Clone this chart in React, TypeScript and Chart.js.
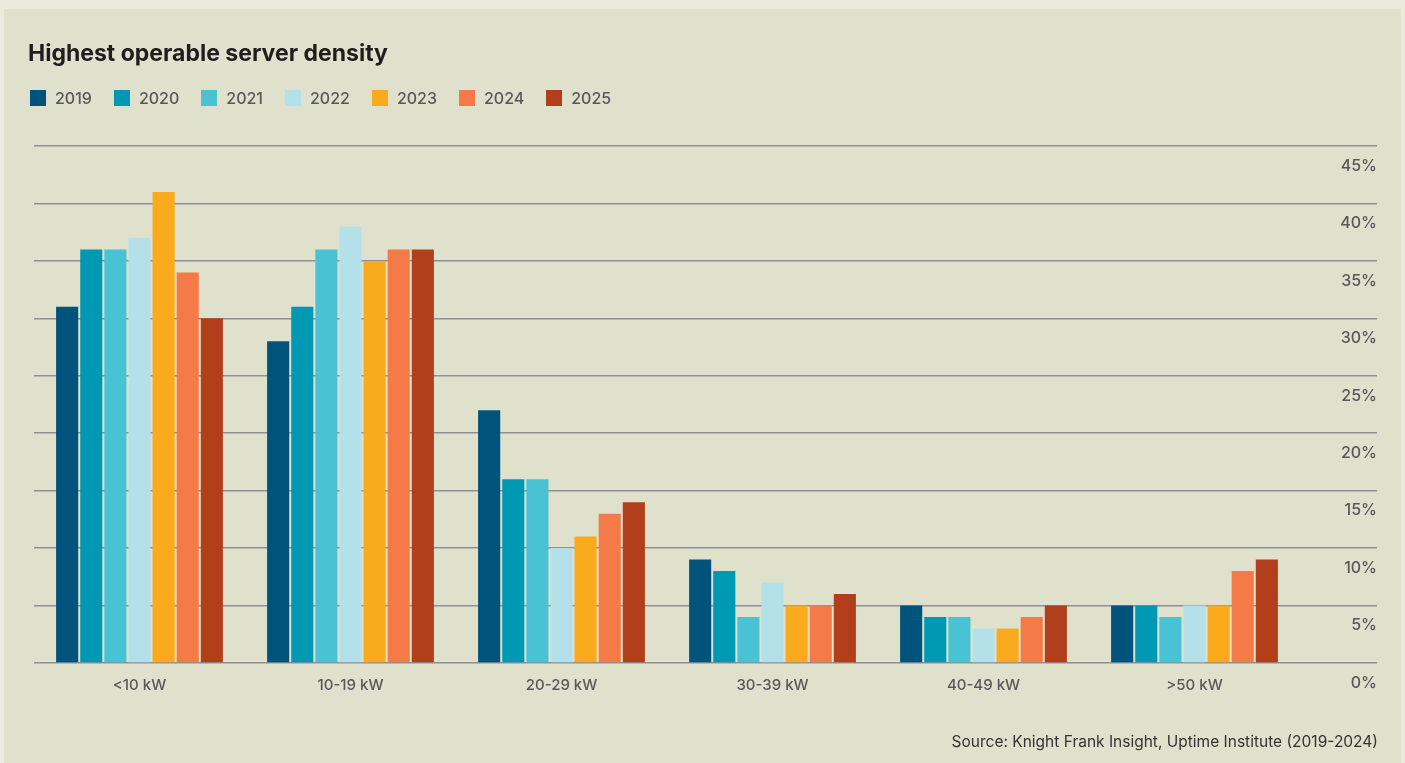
import React, { useEffect, useRef } from "react";
import { Chart, registerables } from "chart.js";

Chart.register(...registerables);

const TITLE = "Highest operable server density";
const SOURCE = "Source: Knight Frank Insight, Uptime Institute (2019-2024)";
const CATEGORIES = ["<10 kW", "10-19 kW", "20-29 kW", "30-39 kW", "40-49 kW", ">50 kW"];
const YEARS = ["2019", "2020", "2021", "2022", "2023", "2024", "2025"];
const COLORS = ["#00537A", "#0099B4", "#49C3D3", "#B4E0E9", "#FAAB1D", "#F47B48", "#B23F1C"];
const V2019 = [31, 28, 22, 9, 5, 5];
const V2020 = [36, 31, 16, 8, 4, 5];
const V2021 = [36, 36, 16, 4, 4, 4];
const V2022 = [37, 38, 10, 7, 3, 5];
const V2023 = [41, 35, 11, 5, 3, 5];
const V2024 = [34, 36, 13, 5, 4, 8];
const V2025 = [30, 36, 14, 6, 5, 9];
const SERIES = [V2019, V2020, V2021, V2022, V2023, V2024, V2025];
const Y_TICKS = [0, 5, 10, 15, 20, 25, 30, 35, 40, 45];

const FONT = "Inter, 'Noto Sans', Arial, sans-serif";

export default function App() {
  const ref = useRef<HTMLCanvasElement | null>(null);

  useEffect(() => {
    if (!ref.current) return;
    const yLabelPlugin = {
      id: "yLabels",
      afterDraw(chart: any) {
        const ctx = chart.ctx;
        const scale = chart.scales.y;
        ctx.save();
        ctx.font = `500 16px ${FONT}`;
        ctx.fillStyle = "#58585A";
        ctx.textAlign = "right";
        ctx.textBaseline = "middle";
        const x = chart.chartArea.right + 77;
        Y_TICKS.forEach((v) => {
          ctx.fillText(v + "%", x, scale.getPixelForValue(v) + 20);
        });
        ctx.restore();
      },
    };
    const chart = new Chart(ref.current, {
      type: "bar",
      data: {
        labels: CATEGORIES,
        datasets: YEARS.map((y, i) => ({
          label: y,
          data: SERIES[i],
          backgroundColor: COLORS[i],
          borderWidth: 0,
          categoryPercentage: 0.8,
          barPercentage: 0.917,
        })),
      },
      options: {
        responsive: false,
        animation: false,
        layout: { padding: { left: 34, right: 28, top: 146, bottom: 64 } },
        plugins: { legend: { display: false }, tooltip: { enabled: false }, title: { display: false } },
        scales: {
          x: {
            grid: { display: false },
            border: { display: false },
            ticks: { color: "#58585A", font: { family: FONT, size: 15, weight: 500 }, padding: 5 },
          },
          y: {
            position: "right",
            min: 0,
            max: 45,
            afterBuildTicks: (axis: any) => {
              axis.ticks = Y_TICKS.map((v) => ({ value: v }));
            },
            grid: { color: "#8D9196", lineWidth: 1.5, tickLength: 77, drawTicks: true },
            border: { display: false },
            ticks: { display: false },
          },
        },
      },
      plugins: [yLabelPlugin],
    });
    return () => chart.destroy();
  }, []);

  return (
    <div style={{ position: "absolute", left: 0, top: 0, width: 1405, height: 763, background: "#EBEBDD", overflow: "hidden", fontFamily: FONT }}>
      <div style={{ position: "absolute", left: 4, top: 9, width: 1397, height: 754, background: "#E0E1CC" }} />
      <canvas ref={ref} width={1405} height={763} style={{ position: "absolute", left: 0, top: 0, width: 1405, height: 763 }} />
      <div style={{ position: "absolute", left: 28, top: 39, lineHeight: "28px", fontSize: 23, fontWeight: 700, color: "#1E1E1E", whiteSpace: "nowrap" }}>
        {TITLE}
      </div>
      <div style={{ position: "absolute", left: 30, top: 90, height: 16, display: "flex", alignItems: "center" }}>
        {YEARS.map((y, i) => (
          <div key={y} style={{ display: "flex", alignItems: "center", marginRight: 22 }}>
            <div style={{ width: 16, height: 16, background: COLORS[i], marginRight: 9 }} />
            <span style={{ fontSize: 16, fontWeight: 500, lineHeight: "16px", color: "#58585A" }}>{y}</span>
          </div>
        ))}
      </div>
      <div style={{ position: "absolute", right: 27, top: 733, lineHeight: "18px", fontSize: 15.5, color: "#333333", whiteSpace: "nowrap" }}>
        {SOURCE}
      </div>
    </div>
  );
}
